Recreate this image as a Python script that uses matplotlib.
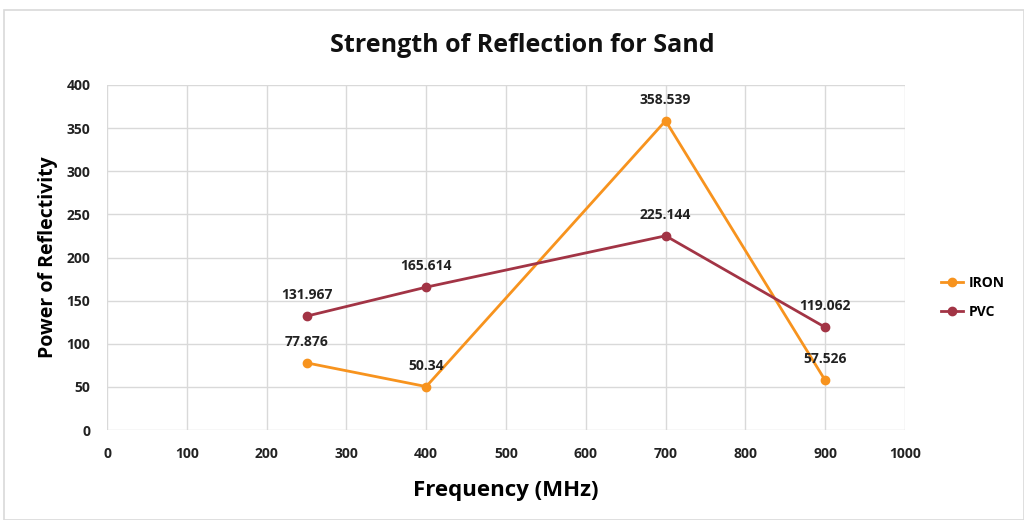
import matplotlib.pyplot as plt
from matplotlib.patches import Rectangle

freq = [250, 400, 700, 900]
iron = [77.876, 50.34, 358.539, 57.526]
pvc = [131.967, 165.614, 225.144, 119.062]
iron_labels = ['77.876', '50.34', '358.539', '57.526']
pvc_labels = ['131.967', '165.614', '225.144', '119.062']

plt.rcParams['font.family'] = ['Open Sans', 'DejaVu Sans']

fig = plt.figure(figsize=(10.24, 5.2), dpi=100)
fig.patches.append(Rectangle((4/1024, 0), 1 - 4/1024, 1 - 10/520, transform=fig.transFigure,
                             fill=False, edgecolor='#d9d9d9', linewidth=1.2))
ax = fig.add_axes([107/1024, 1 - 430/520, (905 - 107)/1024, (430 - 85)/520])

c_iron = '#f7931e'
c_pvc = '#a23445'
ax.plot(freq, iron, color=c_iron, lw=2, marker='o', ms=6, label='IRON')
ax.plot(freq, pvc, color=c_pvc, lw=2, marker='o', ms=6, label='PVC')

for x, y, t in zip(freq, iron, iron_labels):
    ax.annotate(t, (x, y), xytext=(0, 10), textcoords='offset points', ha='center', va='bottom',
                fontsize=10, fontweight='bold', color='#222222')
for x, y, t in zip(freq, pvc, pvc_labels):
    ax.annotate(t, (x, y), xytext=(0, 10), textcoords='offset points', ha='center', va='bottom',
                fontsize=10, fontweight='bold', color='#222222')

ax.set_xlim(0, 1000)
ax.set_ylim(0, 400)
ax.set_xticks(range(0, 1001, 100))
ax.set_yticks(range(0, 401, 50))
ax.grid(True, color='#d9d9d9', lw=1)
ax.set_axisbelow(True)
for s in ax.spines.values():
    s.set_visible(False)
ax.tick_params(length=0, labelsize=10, pad=12)
for lab in ax.get_xticklabels() + ax.get_yticklabels():
    lab.set_fontweight('bold')
    lab.set_color('#222222')

ax.set_xlabel('Frequency (MHz)', fontsize=16, fontweight='bold', labelpad=14)
ax.set_ylabel('Power of Reflectivity', fontsize=14, fontweight='bold', labelpad=6)
fig.text(522/1024, 1 - 45/520, 'Strength of Reflection for Sand', ha='center', va='center',
         fontsize=18, fontweight='bold', color='#111111')

leg = ax.legend(loc='center left', bbox_to_anchor=(1.045, 0.385), frameon=False,
                prop={'weight': 'bold', 'size': 10}, handlelength=1.6, handletextpad=0.4,
                labelspacing=1.1, borderaxespad=0, borderpad=0)

fig.savefig('out.png', dpi=100)
